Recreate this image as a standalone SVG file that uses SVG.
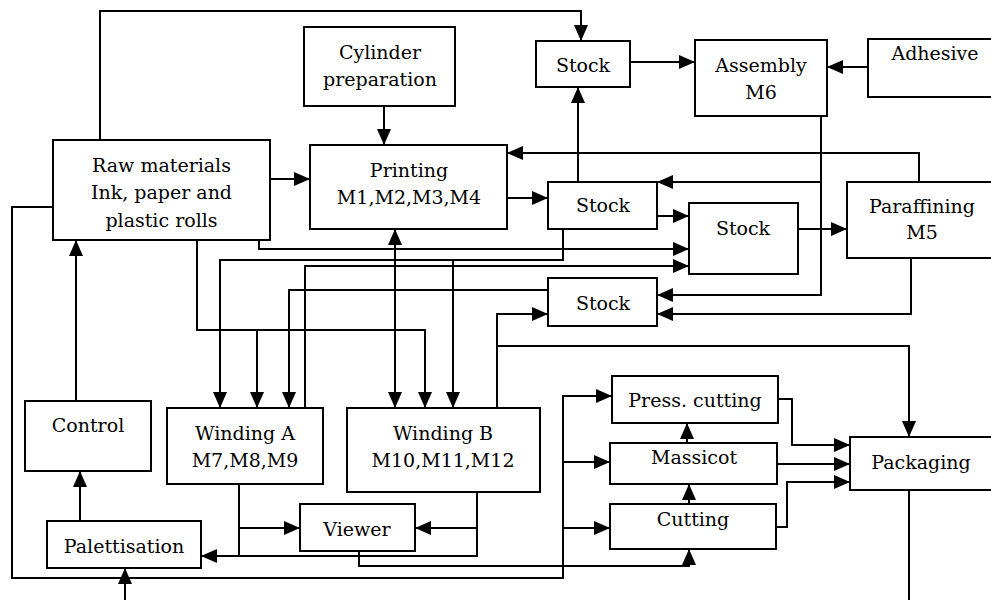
<svg xmlns="http://www.w3.org/2000/svg" width="991" height="600" viewBox="0 0 991 600">
<defs>
<marker id="ah" markerUnits="userSpaceOnUse" markerWidth="16" markerHeight="14" refX="16" refY="7" orient="auto">
<path d="M0,0 L16,7 L0,14 z" fill="#000"/>
</marker>
<marker id="ahs" markerUnits="userSpaceOnUse" markerWidth="16" markerHeight="14" refX="0" refY="7" orient="auto">
<path d="M16,0 L0,7 L16,14 z" fill="#000"/>
</marker>
<style>
.box{fill:#fff;stroke:#000;stroke-width:2}
.t{font-family:"DejaVu Serif",serif;font-size:19px;fill:#000;text-anchor:middle}
.c{fill:none;stroke:#000;stroke-width:2}
.a{marker-end:url(#ah)}
</style>
</defs>
<rect width="991" height="600" fill="#fff"/>
<g id="connectors">
<path class="c a" d="M100,140 V11 H581 V41"/>
<path class="c a" d="M384,106 V145"/>
<path class="c a" d="M270,179 H310"/>
<path class="c a" d="M53,207 H12 V578 H563 V396 H612"/>
<path class="c a" d="M563,462 H610"/>
<path class="c a" d="M563,528 H610"/>
<path class="c a" d="M197,240 V330 H425 V408"/>
<path class="c a" d="M257,330 V408"/>
<path class="c a" d="M259,240 V249 H689"/>
<path class="c a" d="M563,229 V260 H220 V408"/>
<path class="c a" d="M453,260 V408"/>
<path class="c a" d="M305,408 V266 H689"/>
<path class="c a" d="M548,290 H289 V408"/>
<path class="c a" d="M395,229 V408" marker-start="url(#ahs)"/>
<path class="c a" d="M497,408 V314 H548"/>
<path class="c a" d="M497,346 H909 V437"/>
<path class="c a" d="M507,198 H548"/>
<path class="c a" d="M578,182 V87"/>
<path class="c a" d="M630,62 H695"/>
<path class="c a" d="M868,67 H827"/>
<path class="c a" d="M821,116 V295 H657"/>
<path class="c a" d="M821,182 H657"/>
<path class="c a" d="M657,216 H689"/>
<path class="c a" d="M798,229 H847"/>
<path class="c a" d="M919,182 V153 H507"/>
<path class="c a" d="M911,258 V314 H657"/>
<path class="c a" d="M76,401 V240"/>
<path class="c a" d="M80,521 V471"/>
<path class="c a" d="M125,600 V568"/>
<path class="c" d="M239,484 V556"/>
<path class="c a" d="M239,528 H300"/>
<path class="c a" d="M477,492 V556 H201"/>
<path class="c a" d="M477,528 H415"/>
<path class="c a" d="M359,551 V566 H689 V549"/>
<path class="c a" d="M687,443 V423"/>
<path class="c a" d="M689,504 V484"/>
<path class="c a" d="M778,399 H792 V445 H850"/>
<path class="c a" d="M777,464 H850"/>
<path class="c a" d="M776,527 H787 V482 H850"/>
<path class="c" d="M909,490 V600"/>
</g>
<g id="raw"><rect class="box" x="53" y="140" width="217" height="100"/><text class="t" x="161.5" y="172">Raw materials</text><text class="t" x="161.5" y="199">Ink, paper and</text><text class="t" x="161.5" y="227">plastic rolls</text></g>
<g id="cylinder"><rect class="box" x="304" y="27" width="151" height="79"/><text class="t" x="380" y="59">Cylinder</text><text class="t" x="380" y="86">preparation</text></g>
<g id="printing"><rect class="box" x="310" y="145" width="197" height="84"/><text class="t" x="409" y="177">Printing</text><text class="t" x="409" y="204">M1,M2,M3,M4</text></g>
<g id="stock-top"><rect class="box" x="536" y="41" width="94" height="46"/><text class="t" x="583" y="72">Stock</text></g>
<g id="assembly"><rect class="box" x="695" y="40" width="132" height="76"/><text class="t" x="761" y="72">Assembly</text><text class="t" x="761" y="99">M6</text></g>
<g id="adhesive"><rect class="box" x="868" y="39" width="140" height="58"/><text class="t" x="935" y="60">Adhesive</text></g>
<g id="stock-a"><rect class="box" x="548" y="182" width="109" height="47"/><text class="t" x="603" y="212">Stock</text></g>
<g id="stock-m"><rect class="box" x="689" y="203" width="109" height="71"/><text class="t" x="743" y="235">Stock</text></g>
<g id="paraffining"><rect class="box" x="847" y="182" width="160" height="76"/><text class="t" x="922" y="213">Paraffining</text><text class="t" x="922" y="239">M5</text></g>
<g id="stock-b"><rect class="box" x="548" y="278" width="109" height="48"/><text class="t" x="603" y="310">Stock</text></g>
<g id="control"><rect class="box" x="25" y="401" width="126" height="70"/><text class="t" x="88" y="432">Control</text></g>
<g id="winding-a"><rect class="box" x="167" y="408" width="156" height="76"/><text class="t" x="245" y="440">Winding A</text><text class="t" x="245" y="467">M7,M8,M9</text></g>
<g id="winding-b"><rect class="box" x="347" y="408" width="193" height="84"/><text class="t" x="443" y="440">Winding B</text><text class="t" x="443" y="467">M10,M11,M12</text></g>
<g id="viewer"><rect class="box" x="300" y="504" width="115" height="47"/><text class="t" x="357" y="536">Viewer</text></g>
<g id="palettisation"><rect class="box" x="47" y="521" width="154" height="47"/><text class="t" x="124" y="553">Palettisation</text></g>
<g id="press-cutting"><rect class="box" x="612" y="376" width="166" height="47"/><text class="t" x="695" y="407">Press. cutting</text></g>
<g id="massicot"><rect class="box" x="610" y="443" width="167" height="41"/><text class="t" x="694" y="464">Massicot</text></g>
<g id="cutting"><rect class="box" x="610" y="504" width="166" height="45"/><text class="t" x="693" y="526">Cutting</text></g>
<g id="packaging"><rect class="box" x="850" y="437" width="160" height="53"/><text class="t" x="921" y="469">Packaging</text></g>
</svg>
